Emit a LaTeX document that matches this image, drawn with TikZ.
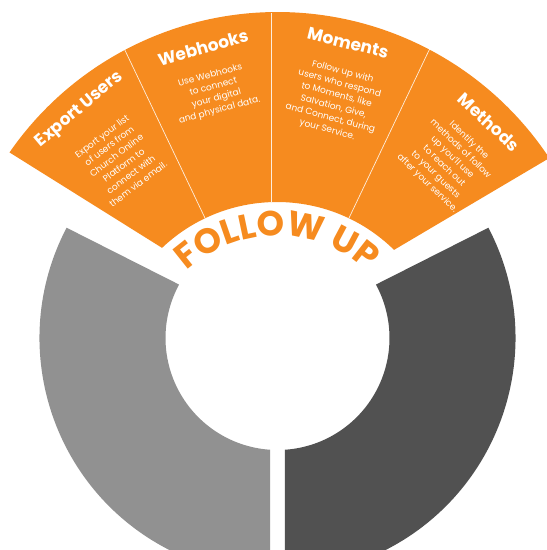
\documentclass[tikz,border=0pt]{standalone}
\usepackage{fontspec}
\setmainfont{Poppins}
\usetikzlibrary{decorations.text}
\definecolor{fuorange}{HTML}{F68B1F}
\definecolor{fulight}{HTML}{919191}
\definecolor{fudark}{HTML}{515151}
\begin{document}
\begin{tikzpicture}[x=1pt,y=1pt,
  wtitle/.style={text=white,font=\fontsize{17}{20}\selectfont\bfseries,inner sep=0pt},
  wbody/.style={text=white,font=\fontsize{9}{12}\selectfont,align=center,inner sep=0pt},
  wsep/.style={draw=white,line width=0.7pt,opacity=0.85}]
\useasboundingbox (0,0) rectangle (547,550);
\clip (0,0) rectangle (547,550);
\coordinate (C) at (277.5,212);
\coordinate (O) at (277,181);
% grey segments
\fill[fulight] ([shift={(152.4:238)}]C) arc[start angle=152.4,end angle=268.2,radius=238]
  -- ([shift={(266.2:112)}]C) arc[start angle=266.2,end angle=151.5,radius=112] -- cycle;
\fill[fudark] ([shift={(27.6:238)}]C) arc[start angle=27.6,end angle=-88.2,radius=238]
  -- ([shift={(-86.2:112)}]C) arc[start angle=-86.2,end angle=28.5,radius=112] -- cycle;
% orange segment
\fill[fuorange] ([shift={(145.3:326)}]C) arc[start angle=145.3,end angle=33.5,radius=326]
  -- ([shift={(45.5:167)}]O) arc[start angle=45.5,end angle=133.5,radius=167] -- cycle;
% separators
\draw[wsep] ([shift={(115.5:167)}]O) -- ([shift={(115.5:355)}]O);
\draw[wsep] (271,348) -- (271,537);
\draw[wsep] ([shift={(64.5:167)}]O) -- ([shift={(64.5:356)}]O);
% titles
\node[wtitle,rotate=40] (t1) at (80,440) {Export Users};
\node[wtitle,rotate=16] (t2) at (203,502) {Webhooks};
\node[wtitle,rotate=-14] (t3) at (348,507) {Moments};
\node[wtitle,rotate=-43] (t4) at (489,428) {Methods};
% bodies
\node[wbody,rotate=37] (b1) at (120,390) {Export your list\\of users from\\Church Online\\Platform to\\connect with\\them via email.};
\node[wbody,rotate=15] (b2) at (215,457) {Use Webhooks\\to connect\\your digital\\and physical data.};
\node[wbody,rotate=-15] (b3) at (335,449) {Follow up with\\users who respond\\to Moments, like\\Salvation, Give,\\and Connect, during\\your Service.};
\node[wbody,rotate=-44] (b4) at (448,388) {Identify the\\methods of follow\\up you'll use\\to reach out\\to your guests\\after your service.};
% curved label
\path[decorate,decoration={text along path,text align=center,text color=fuorange,
  text={|\fontsize{35}{35}\selectfont\bfseries|FOLLOW UP}}]
  ([shift={(160:133)}]O) arc[start angle=160,end angle=20,radius=133];
\end{tikzpicture}
\end{document}
